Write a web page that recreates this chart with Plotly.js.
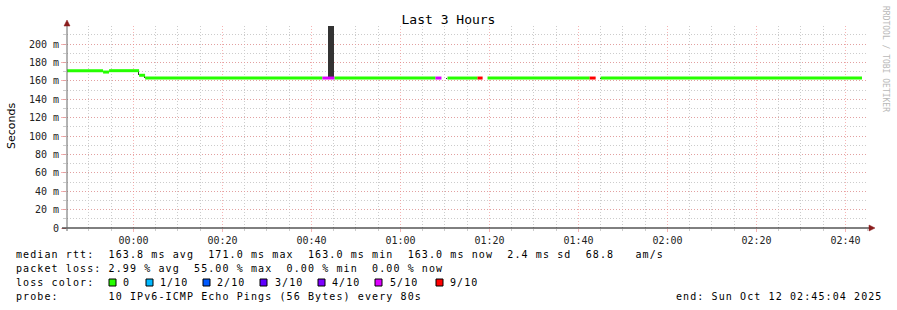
<!DOCTYPE html>
<html>
<head>
<meta charset="utf-8">
<script src="https://cdn.plot.ly/plotly-3.0.1.min.js"></script>
<style>
html,body{margin:0;padding:0;background:#fff;}
#chart{width:897px;height:310px;}
</style>
</head>
<body>
<div id="chart"></div>
<script>
// ---------- DATA ----------
const rangeStart = '2025-10-11 23:45:04';
const rangeEnd   = '2025-10-12 02:45:04';

// median rtt segments (ms), each with its loss (out of 10)
const segStart  = ['2025-10-11 23:45:04','2025-10-11 23:53:10','2025-10-11 23:54:31','2025-10-12 00:01:16','2025-10-12 00:02:37',
                   '2025-10-12 00:42:28','2025-10-12 00:45:10','2025-10-12 01:07:52','2025-10-12 01:10:34','2025-10-12 01:17:19',
                   '2025-10-12 01:19:34','2025-10-12 01:42:31','2025-10-12 01:45:00'];
const segEnd    = ['2025-10-11 23:53:10','2025-10-11 23:54:31','2025-10-12 00:01:16','2025-10-12 00:02:37','2025-10-12 00:42:28',
                   '2025-10-12 00:45:10','2025-10-12 01:07:52','2025-10-12 01:09:13','2025-10-12 01:17:19','2025-10-12 01:18:28',
                   '2025-10-12 01:42:31','2025-10-12 01:43:52','2025-10-12 02:43:43'];
const segMedian = [171, 169.5, 171, 166, 163, 163, 163, 163, 163, 163, 163, 163, 163];
const segLoss   = [0, 0, 0, 0, 0, 5, 0, 5, 0, 9, 0, 9, 0];

// smoke (rtt spread) samples
const smokeTime = ['2025-10-12 00:01:07','2025-10-12 00:02:28','2025-10-12 00:44:24','2025-10-12 01:10:22','2025-10-12 01:44:52'];
const smokeLow  = [166, 163, 163, 162.5, 162.5];
const smokeHigh = [169.5, 166, 300, 163.5, 163.5];
const smokeSpanSec = [15, 15, 80, 15, 15];

// y ticks
const yTickVals = [0, 20, 40, 60, 80, 100, 120, 140, 160, 180, 200];
const yTickText = ['0','20 m','40 m','60 m','80 m','100 m','120 m','140 m','160 m','180 m','200 m'];

// legend: loss colours
const lossLevels = [0, 1, 2, 3, 4, 5, 9];
const lossLabels = ['0','1/10','2/10','3/10','4/10','5/10','9/10'];
const lossColors = ['#26ff00','#00b8ff','#0059ff','#5e00ff','#7e00ff','#dd00ff','#ff0000'];

// stats
const rttAvg = '163.8', rttMax = '171.0', rttMin = '163.0', rttNow = '163.0', rttSd = '2.4', amS = '68.8';
const lossAvg = '2.99', lossMax = '55.00', lossMin = '0.00', lossNow = '0.00';
const probeText = '10 IPv6-ICMP Echo Pings (56 Bytes) every 80s';
const endText = 'end: Sun Oct 12 02:45:04 2025';
const titleText = 'Last 3 Hours';

// ---------- LAYOUT HELPERS ----------
const W = 897, H = 310, L = 67, R = 868, T = 26, B = 228;
const px = x => (x - L) / (R - L);
const py = y => (B - y) / (B - T);
const mono = 'DejaVu Sans Mono';

// ---------- TRACES ----------
const traces = [];
traces.push({
  type: 'bar',
  x: smokeTime,
  base: smokeLow,
  y: smokeHigh.map((h, i) => h - smokeLow[i]),
  width: smokeSpanSec.map(s => s * 1000),
  marker: {color: '#333333', line: {width: 0}},
  hoverinfo: 'skip'
});
lossLevels.forEach((lv, k) => {
  const xs = [], ys = [];
  segLoss.forEach((l, i) => {
    if (l === lv) { xs.push(segStart[i], segEnd[i], null); ys.push(segMedian[i], segMedian[i], null); }
  });
  if (xs.length) traces.push({
    type: 'scatter', mode: 'lines', x: xs, y: ys, connectgaps: false,
    line: {color: lossColors[k], width: 3}, hoverinfo: 'skip'
  });
});

// ---------- ANNOTATIONS ----------
const ann = [];
function txt(text, x, y, opts) {
  ann.push(Object.assign({
    xref: 'paper', yref: 'paper', x: px(x), y: py(y), text: text,
    showarrow: false, xanchor: 'left', yanchor: 'middle', align: 'left', borderpad: 0,
    font: {family: mono, size: 10, color: '#000'}
  }, opts || {}));
}
txt('median rtt:  ' + rttAvg + ' ms avg  ' + rttMax + ' ms max  ' + rttMin + ' ms min  ' + rttNow + ' ms now  ' + rttSd + ' ms sd  ' + amS + '   am/s', 15, 254);
txt('packet loss: ' + lossAvg + ' % avg  ' + lossMax + ' % max  ' + lossMin + ' % min  ' + lossNow + ' % now', 15, 268);
txt('loss color:', 15, 282);
txt('probe:       ' + probeText, 15, 296.5);
txt(endText, 675, 296.5);

const boxX = [109, 146, 203, 260, 318, 375, 436];
const labX = [122, 159, 216, 274, 331, 389, 449];
const shapes = [];
lossLabels.forEach((lab, i) => {
  txt(lab, labX[i], 282);
  shapes.push({type: 'rect', xref: 'paper', yref: 'paper',
    x0: px(boxX[i]), x1: px(boxX[i] + 7), y0: py(286), y1: py(279),
    fillcolor: lossColors[i], line: {color: '#000', width: 1}});
});

// y axis title
txt('Seconds', 11, 126, {xanchor: 'center', align: 'center', textangle: -90, font: {family: 'DejaVu Sans', size: 11, color: '#000'}});
// watermark
txt('RRDTOOL / TOBI OETIKER', 886, 59, {xanchor: 'center', align: 'center', textangle: 90, font: {family: mono, size: 8, color: '#b8b8b8'}});

// axis lines and arrows
shapes.push({type: 'line', xref: 'paper', yref: 'paper', x0: px(62), x1: px(869), y0: py(228), y1: py(228), line: {color: '#000', width: 1}});
shapes.push({type: 'line', xref: 'paper', yref: 'paper', x0: px(67), x1: px(67), y0: py(231), y1: py(25), line: {color: '#666', width: 1}});
const ax = v => px(v), ay = v => py(v);
shapes.push({type: 'path', xref: 'paper', yref: 'paper',
  path: `M ${ax(64)} ${ay(26)} L ${ax(70)} ${ay(26)} L ${ax(67)} ${ay(20)} Z`,
  fillcolor: '#8a1c1c', line: {color: '#8a1c1c', width: 0.5}});
shapes.push({type: 'path', xref: 'paper', yref: 'paper',
  path: `M ${ax(869)} ${ay(225)} L ${ax(869)} ${ay(231)} L ${ax(875)} ${ay(228)} Z`,
  fillcolor: '#8a1c1c', line: {color: '#8a1c1c', width: 0.5}});

const redGrid = 'rgba(240,130,130,0.6)';
const greyGrid = '#cccccc';

const layout = {
  width: W, height: H,
  margin: {l: L, r: W - R, t: T, b: H - B, pad: 0},
  paper_bgcolor: '#fff', plot_bgcolor: '#fff',
  showlegend: false,
  bargap: 0,
  title: {text: titleText, font: {family: mono, size: 13, color: '#000'},
          x: 0.5, xref: 'container', xanchor: 'center', y: 1 - 19 / H, yref: 'container', yanchor: 'middle'},
  xaxis: {
    type: 'date', range: [rangeStart, rangeEnd], fixedrange: true,
    tickformat: '%H:%M', tick0: '2025-10-12 00:00:00', dtick: 20 * 60 * 1000,
    showgrid: true, gridcolor: redGrid, griddash: '1px,2px', gridwidth: 1,
    ticks: 'outside', ticklen: 3, tickcolor: redGrid, tickwidth: 1,
    minor: {dtick: 5 * 60 * 1000, tick0: '2025-10-12 00:00:00', showgrid: true, gridcolor: greyGrid, griddash: '1px,2px', gridwidth: 1,
            ticks: 'outside', ticklen: 2, tickcolor: greyGrid},
    showline: false, zeroline: false,
    tickfont: {family: mono, size: 10, color: '#222'}
  },
  yaxis: {
    range: [0, (B - T) / 0.92], fixedrange: true,
    tickvals: yTickVals, ticktext: yTickText,
    showgrid: true, gridcolor: redGrid, griddash: '1px,2px', gridwidth: 1,
    ticks: 'outside', ticklen: 5, tickcolor: redGrid, tickwidth: 1,
    minor: {dtick: 10, tick0: 0, showgrid: true, gridcolor: greyGrid, griddash: '1px,2px', gridwidth: 1,
            ticks: 'outside', ticklen: 3, tickcolor: greyGrid},
    showline: false, zeroline: false,
    tickfont: {family: mono, size: 10, color: '#222'}
  },
  annotations: ann,
  shapes: shapes
};

Plotly.newPlot('chart', traces, layout, {displayModeBar: false, staticPlot: true}).then(() => {
  document.querySelectorAll('.annotation-text').forEach(t => {
    const fs = t.style.fontSize;
    const ff = t.style.fontFamily || '';
    if (fs === '10px' && ff.indexOf('Mono') >= 0) {
      t.style.letterSpacing = '1.1px';
      t.setAttribute('text-anchor', 'start');
    }
  });
});
</script>
</body>
</html>
